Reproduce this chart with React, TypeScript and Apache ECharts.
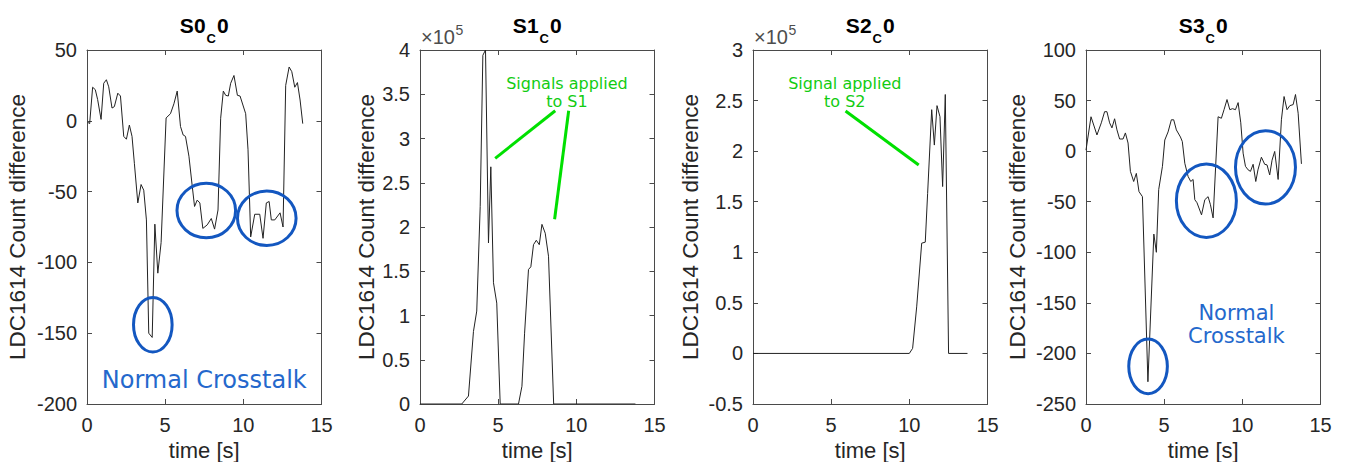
import React, { useEffect, useRef } from "react";
import * as echarts from "echarts";

// ---------------- data ----------------
const s0Time = [0.04, 0.17, 0.36, 0.53, 0.68, 0.9, 1.07, 1.24, 1.39, 1.6, 1.75, 1.97, 2.14, 2.35, 2.52, 2.71, 2.88, 3.03, 3.25, 3.46, 3.63, 3.8, 3.95, 4.17, 4.34, 4.53, 4.74, 5.06, 5.34, 5.56, 5.77, 5.98, 6.15, 6.3, 6.52, 6.73, 6.88, 7.05, 7.22, 7.41, 7.69, 7.95, 8.16, 8.38, 8.55, 8.72, 8.87, 9.04, 9.19, 9.4, 9.62, 9.79, 10.15, 10.3, 10.47, 10.73, 11.05, 11.26, 11.47, 11.65, 11.79, 12.01, 12.35, 12.54, 12.71, 12.93, 13.1, 13.29, 13.46, 13.63, 13.8];
const s0Vals = [-1, -2, 23.7, 22, 15, 1, 26.5, 29, 24, 9, 10, 19.5, 17.5, -11, -13, -3, -11, -30, -58, -45, -49, -70, -150, -153, -73, -107.6, -86, 2, 5, 12, 21, -4, -10, -11, -25, -46, -60.5, -56, -58, -76, -73.5, -69, -76.5, -63, 1.8, 21, 18, 17.5, 26.5, 32, 18, 17.5, 5, -20.5, -82, -66, -66, -83, -58, -57, -70, -70, -65, -75, 25, 38, 34.7, 23.7, 27, 14.7, -2];

const s1Time = [0, 2.67, 3.1, 3.42, 3.63, 3.85, 4.02, 4.19, 4.38, 4.53, 4.7, 4.91, 5.13, 6.3, 6.52, 6.69, 6.94, 7.09, 7.26, 7.44, 7.63, 7.8, 8.01, 8.22, 8.55, 13.78];
const s1Vals = [0, 0, 9000, 82000, 105000, 223000, 394000, 400000, 182000, 268000, 137000, 114000, 0, 0, 20000, 80000, 152000, 155000, 180000, 185000, 180000, 203000, 193000, 167000, 0, 0];

const s2Time = [0, 10.0, 10.21, 10.47, 10.79, 11.02, 11.17, 11.43, 11.6, 11.77, 11.96, 12.13, 12.3, 12.51, 13.72];
const s2Vals = [0, 0, 5000, 46000, 109000, 110000, 158000, 241000, 206000, 245000, 234000, 165000, 256000, 0, 0];

const s3Time = [0, 0.32, 0.7, 0.98, 1.19, 1.34, 1.51, 1.66, 1.83, 1.98, 2.15, 2.37, 2.52, 2.69, 2.84, 3.05, 3.22, 3.39, 3.61, 3.96, 4.34, 4.5, 4.65, 4.89, 5.04, 5.25, 5.46, 5.61, 5.78, 6.04, 6.16, 6.32, 6.53, 6.7, 6.85, 6.96, 7.1, 7.39, 7.6, 7.81, 7.96, 8.13, 8.45, 8.66, 8.83, 9.02, 9.2, 9.37, 9.56, 9.73, 9.9, 10.05, 10.2, 10.37, 10.52, 10.69, 10.86, 11.0, 11.22, 11.43, 11.58, 11.75, 11.9, 12.07, 12.29, 12.5, 12.67, 12.86, 13.04, 13.25, 13.4, 13.57, 13.78];
const s3Vals = [1, 34, 16, 28, 39, 39, 28, 23, 32, 21, 12, 12, 18, 8, -20, -30, -22, -40, -45, -228, -82, -100, -38, -15, 11, 19, 31, 31, 21, 14, 9.5, -12, -25, -30, -28, -48, -51, -63, -48, -45, -53, -66, 34, 32.5, 41, 51, 41, 42, 41, 48, 28, -2, -15, -18.5, -20, -13, -30, -18.5, -6, -13, -13.6, -23.5, -9, -0.3, -28, 31, 54, 41, 45, 46, 56, 37.5, -12.6];

const panelNames = ["S0", "S1", "S2", "S3"];
const yMins = [-200, 0, -50000, -250];
const yMaxs = [50, 400000, 300000, 100];
const yIntervals = [50, 50000, 50000, 50];
const xMin = 0;
const xMax = 15;
const xInterval = 5;
const xName = "time [s]";
const yName = "LDC1614 Count difference";

// annotations (data coordinates)
const ellipses0 = [[4.21, -144], [7.63, -63.4], [11.5, -68.8]];
const ellipses3 = [[3.97, -212.8], [7.7, -49], [11.48, -16]];

// ---------------- layout / style ----------------
const FONT = '"Liberation Sans", Arial, Helvetica, sans-serif';
const ANNOT_FONT = '"DejaVu Sans", Verdana, sans-serif';
const gridLefts = [87, 420, 753, 1086];
const gridWidth = 234.5;
const gridTop = 50;
const gridHeight = 354;
const nameGaps = [58, 42, 51, 57];
const axisColor = "#4a4a4a";
const textColor = "#262626";
const blue = "#1357c0";
const blueText = "#2468cc";
const green = "#00e000";
const greenText = "#12cc12";

const seriesTimes = [s0Time, s1Time, s2Time, s3Time];
const seriesVals = [s0Vals, s1Vals, s2Vals, s3Vals];

function zip(t: number[], v: number[]) {
  const n = Math.min(t.length, v.length);
  const out: number[][] = [];
  for (let i = 0; i < n; i++) out.push([t[i], v[i]]);
  return out;
}

function yFormatter(i: number) {
  return (v: number) => {
    if (i === 1 || i === 2) return String(Math.round(v / 1e4) / 10);
    return String(v);
  };
}

function measure(font: string, text: string) {
  const c = document.createElement("canvas").getContext("2d");
  if (!c) return text.length * 10;
  c.font = font;
  return c.measureText(text).width;
}

function buildOption() {
  const grid = gridLefts.map((l) => ({
    left: l,
    top: gridTop,
    width: gridWidth,
    height: gridHeight,
    outerBoundsMode: "none",
    containLabel: false,
  }));
  const lineStyle = { color: axisColor, width: 1 };
  const xMain = gridLefts.map((_, i) => ({
    type: "value",
    gridIndex: i,
    position: "bottom",
    min: xMin,
    max: xMax,
    interval: xInterval,
    axisLine: { show: true, onZero: false, lineStyle },
    axisTick: { show: true, inside: true, length: 5, lineStyle },
    splitLine: { show: false },
    axisLabel: { fontSize: 20, color: textColor, fontFamily: FONT, margin: 11 },
    name: xName,
    nameLocation: "middle",
    nameGap: 33,
    nameTextStyle: { fontSize: 22, color: textColor, fontFamily: FONT },
  }));
  const xMirror = gridLefts.map((_, i) => ({
    type: "value",
    gridIndex: i,
    position: "top",
    min: xMin,
    max: xMax,
    interval: xInterval,
    axisLine: { show: true, onZero: false, lineStyle },
    axisTick: { show: true, inside: true, length: 5, lineStyle },
    splitLine: { show: false },
    axisLabel: { show: false },
  }));
  const yMain = gridLefts.map((_, i) => ({
    type: "value",
    gridIndex: i,
    position: "left",
    min: yMins[i],
    max: yMaxs[i],
    interval: yIntervals[i],
    axisLine: { show: true, onZero: false, lineStyle },
    axisTick: { show: true, inside: true, length: 5, lineStyle },
    splitLine: { show: false },
    axisLabel: { fontSize: 20, color: textColor, fontFamily: FONT, margin: 10, formatter: yFormatter(i) },
    name: yName,
    nameLocation: "middle",
    nameGap: nameGaps[i],
    nameTextStyle: { fontSize: 22.5, color: textColor, fontFamily: FONT },
  }));
  const yMirror = gridLefts.map((_, i) => ({
    type: "value",
    gridIndex: i,
    position: "right",
    min: yMins[i],
    max: yMaxs[i],
    interval: yIntervals[i],
    axisLine: { show: true, onZero: false, lineStyle },
    axisTick: { show: true, inside: true, length: 5, lineStyle },
    splitLine: { show: false },
    axisLabel: { show: false },
  }));
  const series = gridLefts.map((_, i) => ({
    type: "line",
    xAxisIndex: i,
    yAxisIndex: i,
    data: zip(seriesTimes[i], seriesVals[i]),
    showSymbol: false,
    symbol: "none",
    lineStyle: { color: "#222", width: 1 },
    clip: true,
    silent: true,
  }));
  return {
    animation: false,
    backgroundColor: "#fff",
    grid,
    xAxis: [...xMain, ...xMirror],
    yAxis: [...yMain, ...yMirror],
    series,
  };
}

function buildGraphics(chart: any) {
  const px = (i: number, t: number, v: number) =>
    chart.convertToPixel({ xAxisIndex: i, yAxisIndex: i }, [t, v]) as number[];
  const g: any[] = [];

  // titles: S#_C0
  const bigFont = `bold 21px ${FONT}`;
  const subFont = `bold 13px ${FONT}`;
  panelNames.forEach((name, i) => {
    const cx = gridLefts[i] + gridWidth / 2;
    const w1 = measure(bigFont, name);
    const w2 = measure(subFont, "C");
    const w3 = measure(bigFont, "0");
    const total = w1 + w2 + w3 + 2;
    const x0 = cx - total / 2;
    const base = { fill: "#000", fontFamily: FONT, fontWeight: "bold", align: "left", verticalAlign: "middle" };
    g.push({ type: "text", x: x0, y: 25.5, z: 20, style: { ...base, text: name, fontSize: 21 } });
    g.push({ type: "text", x: x0 + w1 + 1, y: 38.5, z: 20, style: { ...base, text: "C", fontSize: 13 } });
    g.push({ type: "text", x: x0 + w1 + w2 + 2, y: 25.5, z: 20, style: { ...base, text: "0", fontSize: 21 } });
  });

  // exponent labels for panels 1 and 2
  [1, 2].forEach((i) => {
    const x = gridLefts[i] + 1;
    const f = `20px ${FONT}`;
    const w = measure(f, "×10");
    g.push({ type: "text", x, y: 37, z: 20, style: { text: "×10", fontSize: 20, fontFamily: FONT, fill: "#4d4d4d", align: "left", verticalAlign: "middle" } });
    g.push({ type: "text", x: x + w + 0.5, y: 30, z: 20, style: { text: "5", fontSize: 14, fontFamily: FONT, fill: "#4d4d4d", align: "left", verticalAlign: "middle" } });
  });

  // ellipses
  const ellR0 = [[19.3, 27.3], [29.3, 27.3], [29.3, 27.3]];
  ellipses0.forEach((e, k) => {
    const [x, y] = px(0, e[0], e[1]);
    g.push({ type: "ellipse", z: 30, shape: { cx: x, cy: y, rx: ellR0[k][0], ry: ellR0[k][1] }, style: { fill: "none", stroke: blue, lineWidth: 3 } });
  });
  const ellR3 = [[19.3, 27.3], [30, 36.7], [30, 36.7]];
  ellipses3.forEach((e, k) => {
    const [x, y] = px(3, e[0], e[1]);
    g.push({ type: "ellipse", z: 30, shape: { cx: x, cy: y, rx: ellR3[k][0], ry: ellR3[k][1] }, style: { fill: "none", stroke: blue, lineWidth: 3 } });
  });

  // blue texts
  const t0 = px(0, 7.5, -183);
  g.push({ type: "text", x: t0[0], y: t0[1], z: 30, style: { text: "Normal Crosstalk", fontSize: 24, fontFamily: ANNOT_FONT, fill: blueText, align: "center", verticalAlign: "middle" } });
  const t3a = px(3, 9.62, -160);
  const t3b = px(3, 9.62, -183);
  g.push({ type: "text", x: t3a[0], y: t3a[1], z: 30, style: { text: "Normal", fontSize: 21, fontFamily: ANNOT_FONT, fill: blueText, align: "center", verticalAlign: "middle" } });
  g.push({ type: "text", x: t3b[0], y: t3b[1], z: 30, style: { text: "Crosstalk", fontSize: 21, fontFamily: ANNOT_FONT, fill: blueText, align: "center", verticalAlign: "middle" } });

  // green annotations
  const lines: [number, number[], number[]][] = [
    [1, [4.81, 277600], [8.65, 331400]],
    [1, [9.51, 331400], [8.61, 208700]],
    [2, [5.92, 239700], [10.6, 186300]],
  ];
  lines.forEach(([i, a, b]) => {
    const p = px(i, a[0], a[1]);
    const q = px(i, b[0], b[1]);
    g.push({ type: "line", z: 30, shape: { x1: p[0], y1: p[1], x2: q[0], y2: q[1] }, style: { stroke: green, lineWidth: 3 } });
  });
  const gtexts: [number, number, number, string][] = [
    [1, 9.4, 362000, "Signals applied"],
    [1, 9.4, 342000, "to S1"],
    [2, 5.87, 266500, "Signal applied"],
    [2, 5.87, 249000, "to S2"],
  ];
  gtexts.forEach(([i, t, v, s]) => {
    const p = px(i, t, v);
    g.push({ type: "text", x: p[0], y: p[1], z: 30, style: { text: s, fontSize: 16, fontFamily: ANNOT_FONT, fill: greenText, align: "center", verticalAlign: "middle" } });
  });

  return g;
}

export default function App() {
  const ref = useRef<HTMLDivElement>(null);
  useEffect(() => {
    const el = ref.current;
    if (!el) return;
    const chart = echarts.init(el, null, { renderer: "svg" });
    chart.setOption(buildOption() as any);
    chart.setOption({ graphic: buildGraphics(chart) } as any);
    return () => chart.dispose();
  }, []);
  return (
    <div
      ref={ref}
      style={{ position: "absolute", left: 0, top: 0, width: 1347, height: 462, background: "#fff" }}
    />
  );
}
